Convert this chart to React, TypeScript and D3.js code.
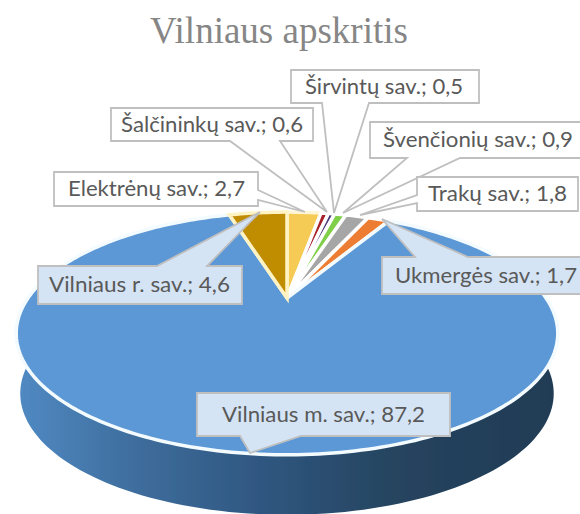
import React from "react";
import * as d3 from "d3";

const categories = ["Elektrėnų sav.", "Šalčininkų sav.", "Širvintų sav.", "Švenčionių sav.", "Trakų sav.", "Ukmergės sav.", "Vilniaus m. sav.", "Vilniaus r. sav."];
const values = [2.7, 0.6, 0.5, 0.9, 1.8, 1.7, 87.2, 4.6];
const valueLabels = ["2,7", "0,6", "0,5", "0,9", "1,8", "1,7", "87,2", "4,6"];
const colors = ["#f6cb55", "#a8202c", "#4a3a7c", "#7fcf48", "#a6a6a6", "#ed7d31", "#5b97d6", "#c08c04"];
const rimColors = ["#fff6d8", "#ffffff", "#ffffff", "#ffffff", "#ffffff", "#ffffff", "#f4fbff", "#fff3c4"];

// box [x0,y0,x1,y1], pointer base [ax,ay,bx,by], pointer tip [x,y], fill, text start and width
const boxes = [
  [54, 172, 258, 206], [111, 108, 313, 141], [291, 70, 479, 103], [370, 122, 582, 158],
  [417, 177, 578, 211], [382, 257, 582, 294], [197, 393, 450, 436], [38, 266, 242, 304],
];
const bases = [
  [258, 190, 258, 200], [230, 141, 280, 141], [322, 103, 369, 103], [407, 158, 460, 158],
  [417, 195, 417, 203], [415, 257, 468, 257], [240, 436, 301, 436], [157, 266, 207, 266],
];
const tips = [[305, 212], [327, 212], [334, 213], [343, 213], [360, 215], [382, 219], [250, 453], [260, 212]];
const boxFills = ["#ffffff", "#ffffff", "#ffffff", "#ffffff", "#ffffff", "#d5e4f4", "#d5e4f4", "#d5e4f4"];
const textStarts = [68, 121, 305, 383, 428, 395, 222, 49];
const textWidths = [177, 182, 158, 190, 139, 182, 203, 181];

const W = 580, H = 514;
const cx = 287, cy = 298, k = 0.292, A = 111, B = 259, depth = 60;

const project = (t: number, shift = 0, sx = 1): [number, number] => {
  const x = Math.sin(t), y = -Math.cos(t);
  const d = 1 - k * y;
  return [cx - 1 + (1 + (B * x) / d) * sx, cy + (A * y) / d + shift];
};

export default function App() {
  const arcs = d3.pie<number>().sort(null).startAngle(0).endAngle(2 * Math.PI)(values);
  const line = d3.line();
  const slice = (a: number, b: number) => {
    const n = Math.max(4, Math.ceil((b - a) / 0.02));
    const pts = d3.range(n + 1).map((i) => project(a + ((b - a) * i) / n));
    return line([[cx, cy], ...pts]) + "Z";
  };
  // side wall: front part of the rim
  const from = Math.PI / 2 - 0.05, to = (3 * Math.PI) / 2 + 0.05;
  const rs = d3.range(121).map((i) => from + ((to - from) * i) / 120);
  const wall = line([...rs.map((t) => project(t)), ...rs.slice().reverse().map((t) => project(t, depth, 0.985))]) + "Z";
  return (
    <svg width={W} height={H} viewBox={`0 0 ${W} ${H}`} style={{ position: "fixed", left: 0, top: 0 }}>
      <defs>
        <linearGradient id="wall" gradientUnits="userSpaceOnUse" x1={20} x2={555} y1={0} y2={0}>
          <stop offset="0" stopColor="#5089c2" />
          <stop offset="0.2" stopColor="#3f6f9f" />
          <stop offset="0.45" stopColor="#2f5780" />
          <stop offset="0.7" stopColor="#26445f" />
          <stop offset="1" stopColor="#203b55" />
        </linearGradient>
        <filter id="soft" x="-5%" y="-5%" width="110%" height="110%">
          <feGaussianBlur stdDeviation="0.6" />
        </filter>
      </defs>
      <rect width={W} height={H} fill="#ffffff" />
      <text x={279} y={43} textAnchor="middle" fontFamily="'Liberation Serif', serif" fontSize={37} fill="#868686">
        Vilniaus apskritis
      </text>
      <g filter="url(#soft)">
        <path d={wall} fill="url(#wall)" />
        {arcs.map((a, i) => (
          <path key={i} d={slice(a.startAngle, a.endAngle)} fill={colors[i]} stroke={rimColors[i]} strokeWidth={3.5} strokeLinejoin="miter" />
        ))}
      </g>
      {categories.map((c, i) => {
        const [x0, y0, x1, y1] = boxes[i];
        const [ax, ay, bx, by] = bases[i];
        const [tx, ty] = tips[i];
        // walk the box outline, inserting the pointer on the side that holds its base
        let pts: [number, number][];
        if (ay === y0 && by === y0) pts = [[x0, y0], [ax, ay], [tx, ty], [bx, by], [x1, y0], [x1, y1], [x0, y1]];
        else if (ay === y1 && by === y1) pts = [[x0, y0], [x1, y0], [x1, y1], [bx, by], [tx, ty], [ax, ay], [x0, y1]];
        else if (ax === x1) pts = [[x0, y0], [x1, y0], [ax, ay], [tx, ty], [bx, by], [x1, y1], [x0, y1]];
        else pts = [[x0, y0], [x1, y0], [x1, y1], [x0, y1], [bx, by], [tx, ty], [ax, ay]];
        return (
          <g key={c}>
            <path d={line(pts) + "Z"} fill={boxFills[i]} stroke="#bfbfbf" strokeWidth={1.8} strokeLinejoin="miter" />
            <text
              x={textStarts[i]}
              y={(y0 + y1) / 2 + 7}
              fontFamily="Lato, sans-serif"
              fontSize={21}
              fill="#595959"
              textLength={textWidths[i]}
              lengthAdjust="spacingAndGlyphs"
            >
              {`${c}; ${valueLabels[i]}`}
            </text>
          </g>
        );
      })}
    </svg>
  );
}
